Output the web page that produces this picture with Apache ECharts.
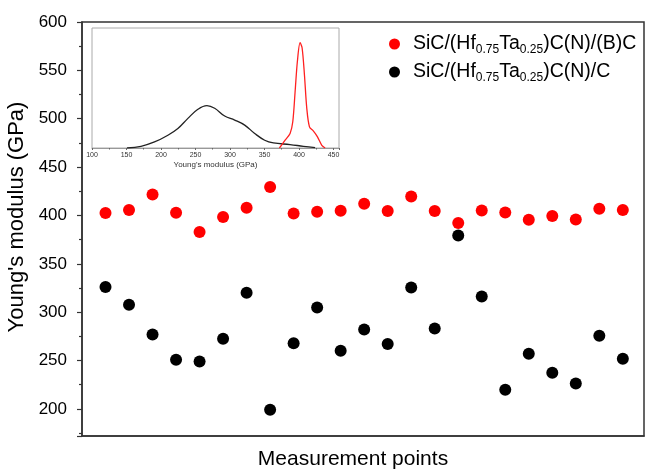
<!DOCTYPE html>
<html>
<head>
<meta charset="utf-8">
<script src="https://cdn.jsdelivr.net/npm/echarts@6/dist/echarts.min.js"></script>
<style>html,body{margin:0;padding:0;background:#fff;}#c{width:646px;height:471px;}</style>
</head>
<body>
<div id="c"></div>
<script>
// Measurement point indices
var points = [1,2,3,4,5,6,7,8,9,10,11,12,13,14,15,16,17,18,19,20,21,22,23];
// SiC/(Hf0.75Ta0.25)C(N)/(B)C  (GPa)
var redValues = [402.5,405.6,421.7,402.8,382.8,398.3,408,429.4,402.1,403.8,404.9,412.1,404.6,419.7,404.6,392.1,405.2,403.1,395.6,399.4,395.9,406.9,405.6];
// SiC/(Hf0.75Ta0.25)C(N)/C  (GPa)
var blackValues = [326,307.7,277,250.8,249,272.5,320.1,199.1,268,304.9,260.1,282.1,267,325.5,283.1,379.3,316.2,219.8,257,237.3,226.3,275.6,251.8];

// Inset distributions (Young's modulus in GPa, density in arbitrary units)
var blackDistX = [150.8,171,190.6,210,224.5,239,253.5,266.6,277.8,292.3,306.8,321.3,335.8,350.3,362.9,387,406.4,423.4];
var blackDistY = [0,1.7,6,12.7,19.4,29.4,38.4,42,39.4,31.7,27.7,22.7,14.4,7.7,5,3.4,1.7,0.4];
var redDistX = [371.6,379.9,387.1,391,394.4,397.7,401.6,404.5,407.9,411.3,415.2,421,426.8,433.1,437.9];
var redDistY = [0,7.7,14.4,26,56,86,104.4,99.4,72.7,39.4,21,16.7,11,2.7,0];

var FONT = 'Arial, "Liberation Sans", sans-serif';

function zip(a,b){ return a.map(function(v,i){ return [v,b[i]]; }); }

var chart = echarts.init(document.getElementById('c'), null, {renderer:'canvas'});
var option = {
  animation: false,
  backgroundColor: '#fff',
  textStyle: {fontFamily: FONT},
  legend: {
    data: ['red', 'black'],
    orient: 'vertical',
    left: 384, top: 29,
    itemWidth: 11, itemHeight: 11, itemGap: 6,
    icon: 'circle',
    formatter: function(name){
      if (name === 'red') return '{n|SiC/(Hf}{s|0.75}{n|Ta}{s|0.25}{n|)C(N)/(B)C}';
      return '{n|SiC/(Hf}{s|0.75}{n|Ta}{s|0.25}{n|)C(N)/C}';
    },
    textStyle: {
      fontFamily: FONT, color: '#000', padding: [0,0,0,8],
      rich: {
        n: {fontSize: 19.5, lineHeight: 24, fontFamily: FONT, color: '#000'},
        s: {fontSize: 12, lineHeight: 13, verticalAlign: 'bottom', fontFamily: FONT, color: '#000'}
      }
    }
  },
  grid: [
    {left: 82, top: 22, right: 2, bottom: 35, show: true, borderColor: '#333', borderWidth: 1.5, backgroundColor: 'transparent', containLabel: false, outerBoundsMode: 'none'},
    {left: 92, top: 28, width: 247, height: 120, show: true, borderColor: '#aaa', borderWidth: 1, backgroundColor: '#fff', containLabel: false, outerBoundsMode: 'none'}
  ],
  xAxis: [
    {
      gridIndex: 0, type: 'value', min: 0, max: 23.9,
      name: 'Measurement points', nameLocation: 'middle', nameGap: 13,
      nameTextStyle: {fontSize: 21, color: '#000', fontFamily: FONT, padding: [0,20,0,0]},
      axisLine: {show: true, lineStyle: {color: '#333', width: 1.5}},
      axisTick: {show: false}, axisLabel: {show: false}, splitLine: {show: false}
    },
    {
      gridIndex: 1, type: 'value', min: 100, max: 458, interval: 50,
      name: "Young's modulus (GPa)", nameLocation: 'middle', nameGap: 13,
      nameTextStyle: {fontSize: 8, color: '#333', fontFamily: FONT},
      axisLine: {show: true, onZero: false, lineStyle: {color: '#999', width: 1}},
      axisTick: {show: true, length: 2, lineStyle: {color: '#666'}},
      minorTick: {show: true, splitNumber: 2, length: 1.5, lineStyle: {color: '#666'}},
      axisLabel: {fontSize: 7, color: '#333', margin: 4, showMaxLabel: false, fontFamily: FONT},
      splitLine: {show: false}
    }
  ],
  yAxis: [
    {
      gridIndex: 0, type: 'value', min: 172, max: 600, splitNumber: 8,
      name: "Young's modulus (GPa)", nameLocation: 'middle', nameGap: 48,
      nameTextStyle: {fontSize: 22, color: '#000', fontFamily: FONT, padding: [0,0,0,24]},
      axisLine: {show: true, lineStyle: {color: '#333', width: 1.5}},
      axisTick: {show: true, length: 5, lineStyle: {color: '#333', width: 1.2}},
      minorTick: {show: true, splitNumber: 2, length: 3, lineStyle: {color: '#333', width: 1.2}},
      axisLabel: {fontSize: 17, color: '#000', margin: 15, showMinLabel: false, fontFamily: FONT},
      splitLine: {show: false}
    },
    {
      gridIndex: 1, type: 'value', min: 0, max: 119,
      axisLine: {show: false}, axisTick: {show: false}, axisLabel: {show: false}, splitLine: {show: false}
    }
  ],
  series: [
    {
      name: 'red', type: 'scatter', xAxisIndex: 0, yAxisIndex: 0,
      data: zip(points, redValues), symbol: 'circle', symbolSize: 12,
      itemStyle: {color: '#ff0000', opacity: 1}
    },
    {
      name: 'black', type: 'scatter', xAxisIndex: 0, yAxisIndex: 0,
      data: zip(points, blackValues), symbol: 'circle', symbolSize: 12,
      itemStyle: {color: '#000000', opacity: 1}
    },
    {
      name: 'blackDist', type: 'line', xAxisIndex: 1, yAxisIndex: 1,
      data: zip(blackDistX, blackDistY), smooth: 0.4, showSymbol: false,
      lineStyle: {color: '#222', width: 1.3}, z: 5
    },
    {
      name: 'redDist', type: 'line', xAxisIndex: 1, yAxisIndex: 1,
      data: zip(redDistX, redDistY), smooth: 0.3, showSymbol: false,
      lineStyle: {color: '#ff2020', width: 1.3}, z: 6
    }
  ]
};
chart.setOption(option);
</script>
</body>
</html>
